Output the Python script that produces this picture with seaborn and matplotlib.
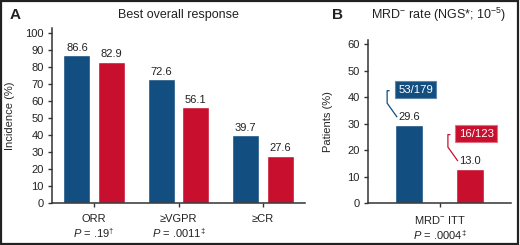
import numpy as np
import pandas as pd
import matplotlib
matplotlib.use("Agg")
import matplotlib.pyplot as plt
import seaborn as sns
from matplotlib.patches import Rectangle

# ---------------- data ----------------
resp_categories = ["ORR", "≥VGPR", "≥CR"]
resp_pvalues = ["$P$ = .19$^{\\dagger}$", "$P$ = .0011$^{\\ddagger}$", ""]
arm_names = ["Arm 1", "Arm 2"]
resp_arm1 = [86.6, 72.6, 39.7]
resp_arm2 = [82.9, 56.1, 27.6]

mrd_category = ["MRD$^{-}$ ITT"]
mrd_pvalue = ["$P$ = .0004$^{\\ddagger}$"]
mrd_arm1 = [29.6]
mrd_arm2 = [13.0]
mrd_counts = ["53/179", "16/123"]

BLUE = "#124E80"
RED = "#C8102E"
TXT = "#222222"

sns.set_theme(style="white")
plt.rcParams["font.family"] = ["Liberation Sans", "DejaVu Sans"]
plt.rcParams["mathtext.fontset"] = "custom"
plt.rcParams["mathtext.rm"] = "Liberation Sans"
plt.rcParams["mathtext.it"] = "Liberation Sans:italic"
plt.rcParams["mathtext.bf"] = "Liberation Sans:bold"
plt.rcParams["text.color"] = TXT

df_a = pd.DataFrame({
    "cat": resp_categories * 2,
    "arm": [arm_names[0]] * 3 + [arm_names[1]] * 3,
    "val": resp_arm1 + resp_arm2,
})
df_b = pd.DataFrame({
    "cat": mrd_category * 2,
    "arm": arm_names,
    "val": mrd_arm1 + mrd_arm2,
})

W, H = 520, 245
fig = plt.figure(figsize=(W / 100, H / 100), dpi=100)

axA = fig.add_axes([52 / W, 1 - 203 / H, (305 - 52) / W, (203 - 27.5) / H])
axB = fig.add_axes([368 / W, 1 - 203 / H, (511 - 368) / W, (203 - 40) / H])

sns.barplot(data=df_a, x="cat", y="val", hue="arm", palette=[BLUE, RED],
            width=0.82, gap=0.22, legend=False, ax=axA, saturation=1)
sns.barplot(data=df_b, x="cat", y="val", hue="arm", palette=[BLUE, RED],
            width=0.85, gap=0.54, legend=False, ax=axB, saturation=1)

for ax, ymax, ticks in [(axA, 103, np.arange(0, 101, 10)), (axB, 61.6, np.arange(0, 61, 10))]:
    ax.set_ylim(0, ymax)
    ax.set_yticks(ticks)
    for s in ["top", "right"]:
        ax.spines[s].set_visible(False)
    for s in ["left", "bottom"]:
        ax.spines[s].set_color("#333333")
        ax.spines[s].set_linewidth(1.1)
    ax.tick_params(axis="both", direction="out", length=3, width=1, color="#333333",
                   labelsize=8, pad=3, labelcolor=TXT, left=True, bottom=True)
    ax.tick_params(axis="x", pad=5)
    ax.set_xlabel("")

axA.set_xlim(-0.5, 2.5)
axB.set_xlim(-0.5, 0.5)

axA.set_xticks(range(len(resp_categories)))
axA.set_xticklabels([c + ("\n" + p if p else "") for c, p in zip(resp_categories, resp_pvalues)],
                    fontsize=8)
axB.set_xticks([0])
axB.set_xticklabels([mrd_category[0] + "\n" + mrd_pvalue[0]], fontsize=8)

axA.set_ylabel("Incidence (%)", fontsize=8)
axA.yaxis.set_label_coords((15 - 52) / 253, 0.5)
axB.set_ylabel("Patients (%)", fontsize=8)
axB.yaxis.set_label_coords((333 - 368) / 143, 0.5)

for c in axA.containers:
    axA.bar_label(c, fmt="%.1f", padding=2, fontsize=8, color=TXT)
for c in axB.containers:
    axB.bar_label(c, fmt="%.1f", padding=2, fontsize=8, color=TXT)

# boxes + connectors in panel B
ux = 1.0 / 143.0        # data units per pixel (x)
uy = 61.6 / 163.0       # data units per pixel (y)
for c, txt, col, edge in zip(axB.containers, mrd_counts, [BLUE, RED], ["#5E86AC", "#E27084"]):
    p = c.patches[0]
    x0, h = p.get_x(), p.get_height()
    xs = [x0 - 5.5 * ux, x0 - 8 * ux, x0 - 8 * ux, x0 + 2 * ux]
    ys = [h + 34 * uy, h + 34 * uy, h + 21.5 * uy, h + 7.5 * uy]
    axB.plot(xs, ys, color=col, lw=0.9, solid_capstyle="butt", clip_on=False)
    axB.text(x0 + 20.5 * ux, h + 35 * uy, txt, color="white", fontsize=8.2,
             ha="center", va="center",
             bbox=dict(boxstyle="square,pad=0.3", fc=col, ec=edge, lw=0.8))

# titles and panel letters
fig.text(178 / W, 1 - 15 / H, "Best overall response", fontsize=9, ha="center", va="center")
fig.text(439 / W, 1 - 15 / H, "MRD$^{-}$ rate (NGS*; 10$^{-5}$)", fontsize=9,
         ha="center", va="center")
fig.text(10 / W, 1 - 15 / H, "A", fontsize=11, fontweight="bold", ha="left", va="center")
fig.text(332 / W, 1 - 15 / H, "B", fontsize=11, fontweight="bold", ha="left", va="center")

# outer frame
fig.patches.append(Rectangle((1 / W, 1.5 / H), (W - 3) / W, (H - 3) / H,
                             transform=fig.transFigure, fill=False,
                             ec="#222222", lw=1.6))

fig.savefig("out.png", dpi=100)
